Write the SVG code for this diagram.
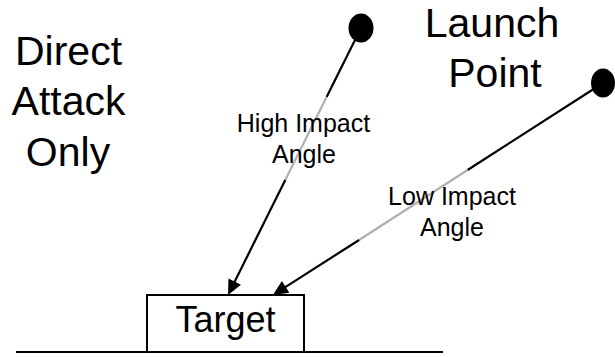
<svg xmlns="http://www.w3.org/2000/svg" width="615" height="357" viewBox="0 0 615 357">
<style>
text{font-family:"Liberation Sans",Arial,sans-serif;fill:#000;text-anchor:middle}
.big{font-size:41px}
.small{font-size:25px}
.tgt{font-size:36px}
.blk{stroke:#000;stroke-width:2.2;fill:none}
.gry{stroke:#b0b0b0;stroke-width:2.2;fill:none}
.dot{fill:#000}
</style>
<defs>
<marker id="ah" markerUnits="userSpaceOnUse" markerWidth="16" markerHeight="14" viewBox="0 0 15 14" refX="5" refY="7" orient="auto">
<path d="M0,0 L15,7 L0,14 z" fill="#000"/>
</marker>
</defs>
<rect width="615" height="357" fill="#fff"/>
<g id="connectors">
<line class="blk" x1="361" y1="28" x2="326.6" y2="97"/>
<line class="gry" x1="326.6" y1="97" x2="285.3" y2="180"/>
<line class="blk" x1="285.3" y1="180" x2="232.5" y2="286" marker-end="url(#ah)"/>
<line class="blk" x1="603" y1="83" x2="467.6" y2="170"/>
<line class="gry" x1="467.6" y1="170" x2="359.1" y2="240"/>
<line class="blk" x1="359.1" y1="240" x2="281.4" y2="289.6" marker-end="url(#ah)"/>
<line class="blk" x1="16" y1="352" x2="443" y2="352"/>
</g>
<g id="dot-high"><ellipse class="dot" cx="361" cy="28" rx="12.5" ry="14.5"/></g>
<g id="dot-low"><ellipse class="dot" cx="603" cy="83" rx="12" ry="14.5"/></g>
<g id="target">
<rect x="147" y="295" width="157" height="57" fill="#fff" stroke="#000" stroke-width="2"/>
<text class="tgt" x="225.5" y="332">Target</text>
</g>
<g id="label-direct">
<text class="big" x="68.5" y="65">Direct</text>
<text class="big" x="68.5" y="115">Attack</text>
<text class="big" x="68" y="166">Only</text>
</g>
<g id="label-launch">
<text class="big" x="492" y="37">Launch</text>
<text class="big" x="495" y="87">Point</text>
</g>
<g id="label-high">
<text class="small" x="303.5" y="132">High Impact</text>
<text class="small" x="304" y="163">Angle</text>
</g>
<g id="label-low">
<text class="small" x="452" y="205">Low Impact</text>
<text class="small" x="452" y="236">Angle</text>
</g>
</svg>
